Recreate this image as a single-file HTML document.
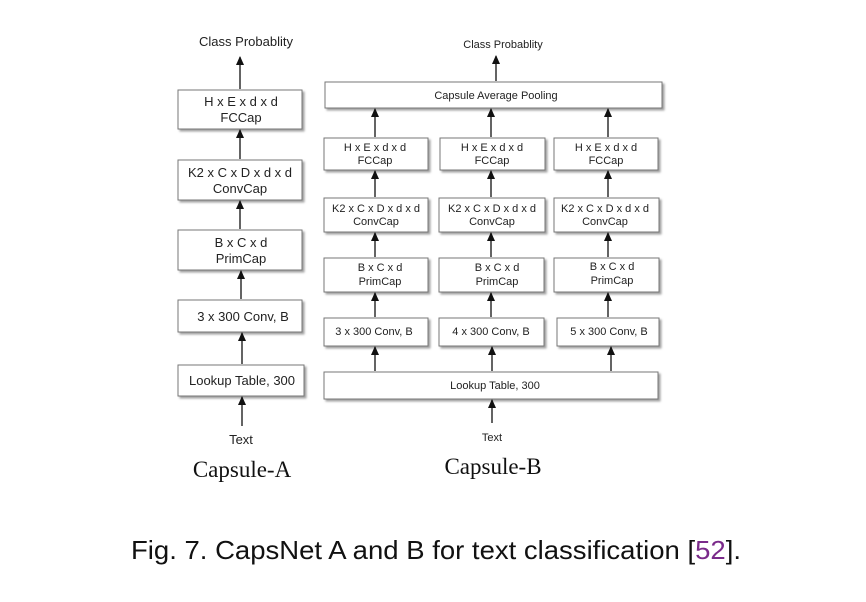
<!DOCTYPE html>
<html><head><meta charset="utf-8"><style>
html,body{margin:0;padding:0;background:#fff;}
svg{display:block;}
.t{font-family:"Liberation Sans",Arial,sans-serif;fill:#222;text-anchor:middle;}
.s{font-family:"Liberation Serif",serif;fill:#111;text-anchor:middle;}
</style></head><body>
<svg width="866" height="602" viewBox="0 0 866 602" xmlns="http://www.w3.org/2000/svg">
<defs>
<marker id="ah" markerWidth="9" markerHeight="8" refX="8" refY="4" orient="auto" markerUnits="userSpaceOnUse">
<path d="M0,0 L9,4 L0,8 Z" fill="#111"/></marker>
<filter id="sh" x="-5%" y="-10%" width="115%" height="130%"><feDropShadow dx="2" dy="2" stdDeviation="1" flood-color="#888" flood-opacity="0.8"/></filter>
</defs>
<g fill="#fff" stroke="#777" stroke-width="1" filter="url(#sh)">
<rect x="178" y="90" width="124" height="39"/>
<rect x="178" y="160" width="124" height="40"/>
<rect x="178" y="230" width="124" height="40"/>
<rect x="178" y="300" width="124" height="32"/>
<rect x="178" y="365" width="126" height="31"/>
<rect x="325" y="82" width="337" height="26"/>
<rect x="324" y="138" width="104" height="32"/>
<rect x="440" y="138" width="105" height="32"/>
<rect x="554" y="138" width="104" height="32"/>
<rect x="324" y="198" width="104" height="34"/>
<rect x="439" y="198" width="106" height="34"/>
<rect x="554" y="198" width="105" height="34"/>
<rect x="324" y="258" width="104" height="34"/>
<rect x="439" y="258" width="105" height="34"/>
<rect x="554" y="258" width="105" height="34"/>
<rect x="324" y="318" width="104" height="28"/>
<rect x="439" y="318" width="105" height="28"/>
<rect x="557" y="318" width="102" height="28"/>
<rect x="324" y="372" width="334" height="27"/>
</g>
<g stroke="#111" stroke-width="1.3" marker-end="url(#ah)">
<line x1="240" y1="89" x2="240" y2="57"/>
<line x1="240" y1="159" x2="240" y2="130"/>
<line x1="240" y1="229" x2="240" y2="201"/>
<line x1="241" y1="299" x2="241" y2="271"/>
<line x1="242" y1="364" x2="242" y2="333"/>
<line x1="242" y1="426" x2="242" y2="397"/>
<line x1="496" y1="81" x2="496" y2="56"/>
<line x1="375" y1="137" x2="375" y2="109"/><line x1="491" y1="137" x2="491" y2="109"/><line x1="608" y1="137" x2="608" y2="109"/>
<line x1="375" y1="197" x2="375" y2="171"/><line x1="491" y1="197" x2="491" y2="171"/><line x1="608" y1="197" x2="608" y2="171"/>
<line x1="375" y1="257" x2="375" y2="233"/><line x1="491" y1="257" x2="491" y2="233"/><line x1="608" y1="257" x2="608" y2="233"/>
<line x1="375" y1="317" x2="375" y2="293"/><line x1="491" y1="317" x2="491" y2="293"/><line x1="608" y1="317" x2="608" y2="293"/>
<line x1="375" y1="371" x2="375" y2="347"/><line x1="492" y1="371" x2="492" y2="347"/><line x1="611" y1="371" x2="611" y2="347"/>
<line x1="492" y1="423" x2="492" y2="400"/>
</g>
<g class="t" font-size="13">
<text x="246" y="46">Class Probablity</text>
<text x="241" y="106">H x E x d x d</text><text x="241" y="122">FCCap</text>
<text x="240" y="177">K2 x C x D x d x d</text><text x="240" y="193">ConvCap</text>
<text x="241" y="247">B x C x d</text><text x="241" y="263">PrimCap</text>
<text x="243" y="321">3 x 300 Conv, B</text>
<text x="242" y="385">Lookup Table, 300</text>
<text x="241" y="444">Text</text>
</g>
<g class="t" font-size="11">
<text x="503" y="48">Class Probablity</text>
<text x="496" y="99">Capsule Average Pooling</text>
<text x="375" y="151">H x E x d x d</text><text x="375" y="164">FCCap</text>
<text x="492" y="151">H x E x d x d</text><text x="492" y="164">FCCap</text>
<text x="606" y="151">H x E x d x d</text><text x="606" y="164">FCCap</text>
<text x="376" y="212">K2 x C x D x d x d</text><text x="376" y="225">ConvCap</text>
<text x="492" y="212">K2 x C x D x d x d</text><text x="492" y="225">ConvCap</text>
<text x="605" y="212">K2 x C x D x d x d</text><text x="605" y="225">ConvCap</text>
<text x="380" y="271">B x C x d</text><text x="380" y="285">PrimCap</text>
<text x="497" y="271">B x C x d</text><text x="497" y="285">PrimCap</text>
<text x="612" y="270">B x C x d</text><text x="612" y="284">PrimCap</text>
<text x="374" y="335">3 x 300 Conv, B</text>
<text x="491" y="335">4 x 300 Conv, B</text>
<text x="609" y="335">5 x 300 Conv, B</text>
<text x="495" y="389">Lookup Table, 300</text>
<text x="492" y="441">Text</text>
</g>
<text class="s" x="242" y="477" font-size="23">Capsule-A</text>
<text class="s" x="493" y="474" font-size="23">Capsule-B</text>
<text x="131" y="559" font-family="'Liberation Sans Narrow','Liberation Sans',sans-serif" font-size="26" fill="#111" textLength="610" lengthAdjust="spacingAndGlyphs">Fig. 7.  CapsNet A and B for text classification [<tspan fill="#7a2a8a">52</tspan>].</text>
</svg>
</body></html>
